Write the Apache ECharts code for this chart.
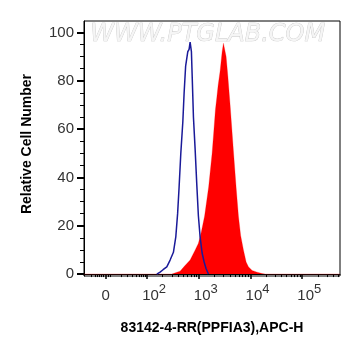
<!DOCTYPE html>
<html>
<head>
<meta charset="utf-8">
<script src="https://cdn.jsdelivr.net/npm/echarts@6/dist/echarts.min.js"></script>
<style>
  html, body { margin: 0; padding: 0; background: #fff; }
  #chart { width: 361px; height: 356px; }
</style>
</head>
<body>
<div id="chart"></div>
<script>
// x values are in decade units of the logicle axis (2 = 10^2, 3 = 10^3 ...)
var sampleX = [0.78, 2.478, 2.638, 2.72, 2.832, 2.928, 2.992, 3.044, 3.112, 3.190, 3.257, 3.286, 3.321, 3.348, 3.373, 3.412, 3.451, 3.476, 3.499, 3.528, 3.561, 3.605, 3.669, 3.721, 3.766, 3.809, 3.863, 3.915, 3.959, 4.031, 4.128, 4.224, 4.282, 5.73];
var sampleY = [0, 0, 1.2, 3.2, 5.8, 9.9, 12.7, 17, 24, 36, 50, 58, 68, 73, 78, 84, 92, 95.5, 95, 90, 82, 70, 51, 36, 24, 16, 10, 5, 3, 1.5, 0.8, 0.2, 0, 0];

var ctrlX = [2.188, 2.251, 2.309, 2.381, 2.445, 2.509, 2.555, 2.590, 2.619, 2.652, 2.691, 2.716, 2.745, 2.787, 2.812, 2.832, 2.857, 2.876, 2.896, 2.928, 2.961, 2.992, 3.025, 3.064, 3.103, 3.141, 3.186];
var ctrlY = [0, 0.8, 1.8, 3, 5.8, 9, 15.4, 25, 36, 50, 63, 75, 86, 92, 93, 96, 92, 79, 65, 52, 37, 24, 15.4, 8.7, 5, 2.2, 0];

// tick labels
var xTickPos = [1.2, 2, 3, 4, 5];
var xTickText = ['0', '2', '3', '4', '5'];
var yTicks = [0, 20, 40, 60, 80, 100];
var yMinor = [5, 10, 15, 25, 30, 35, 45, 50, 55, 65, 70, 75, 85, 90, 95];

// minor ticks on the x axis (near zero, 10..100, then k*10^d)
var xMinor = [0.917, 0.994, 1.033, 1.072, 1.110, 1.149, 1.246, 1.284];
for (var k = 2; k <= 9; k++) xMinor.push(1.284 + 0.716 * Math.log10(k));
for (var d = 2; d <= 5; d++) {
  for (var k = 2; k <= 9; k++) {
    var v = d + Math.log10(k);
    if (v < 5.73) xMinor.push(v);
  }
}

function pairs(xs, ys) {
  return xs.map(function (x, i) { return [x, ys[i]]; });
}

var myChart = echarts.init(document.getElementById('chart'));
var tickFont = 'Liberation Sans, Arial, sans-serif';

var option = {
  animation: false,
  grid: {
    left: 84, right: 21, top: 21, bottom: 80,
    show: true, borderColor: '#000', borderWidth: 1
  },
  graphic: [
    {
      type: 'text', left: 90, top: 22, z: 0,
      style: {
        text: 'WWW.PTGLAB.COM',
        font: 'italic 24px DejaVu Sans, sans-serif',
        fill: '#f5f5f5', stroke: '#c4c4c4', lineWidth: 0.7
      }
    },
    {
      type: 'text', x: 27, y: 144, rotation: Math.PI / 2,
      style: {
        text: 'Relative Cell Number',
        font: 'bold 14px Liberation Sans, Arial, sans-serif',
        fill: '#000', align: 'center', verticalAlign: 'middle'
      }
    }
  ],
  xAxis: [{
    type: 'value', min: 0.78, max: 5.73,
    name: '83142-4-RR(PPFIA3),APC-H',
    nameLocation: 'middle', nameGap: 45,
    nameTextStyle: { fontFamily: tickFont, fontWeight: 'bold', fontSize: 14, color: '#000' },
    splitLine: { show: false },
    axisLine: { lineStyle: { color: '#000', width: 1 } },
    axisTick: { customValues: xTickPos, length: 5, lineStyle: { color: '#000', width: 1.5 } },
    axisLabel: {
      customValues: xTickPos,
      margin: 7,
      formatter: function (val) {
        var i = xTickPos.indexOf(val);
        if (i === 0) return '{z|0}';
        return '{b|10}{s|' + xTickText[i] + '}';
      },
      rich: {
        z: { fontFamily: tickFont, fontSize: 15, color: '#333', lineHeight: 17, padding: [8, 0, 0, 0] },
        b: { fontFamily: tickFont, fontSize: 15, color: '#333', lineHeight: 17, padding: [8, 0, 0, 14] },
        s: { fontFamily: tickFont, fontSize: 13, color: '#333', lineHeight: 10, verticalAlign: 'top' }
      }
    }
  }, {
    type: 'value', min: 0.78, max: 5.73, position: 'bottom',
    splitLine: { show: false },
    axisLine: { show: false },
    axisTick: { customValues: xMinor, length: 3, lineStyle: { color: '#000' } },
    axisLabel: { show: false }
  }],
  yAxis: [{
    type: 'value', min: -0.8, max: 104.7,
    splitLine: { show: false },
    axisLine: { lineStyle: { color: '#000', width: 1 } },
    axisTick: { customValues: yTicks, length: 7, lineStyle: { color: '#000', width: 2 } },
    axisLabel: { customValues: yTicks, fontFamily: tickFont, fontSize: 15, color: '#333', margin: 10 }
  }, {
    type: 'value', min: -0.8, max: 104.7, position: 'left',
    splitLine: { show: false },
    axisLine: { show: false },
    axisTick: { customValues: yMinor, length: 4, lineStyle: { color: '#000' } },
    axisLabel: { show: false }
  }],
  series: [{
    name: 'sample',
    type: 'line',
    data: pairs(sampleX, sampleY),
    showSymbol: false,
    lineStyle: { width: 1, color: 'rgba(255,0,0,0.25)' },
    areaStyle: { color: '#ff0000', opacity: 1 },
    z: 2
  }, {
    name: 'control',
    type: 'line',
    data: pairs(ctrlX, ctrlY),
    showSymbol: false,
    lineStyle: { width: 1.5, color: '#1a1a99' },
    z: 3
  }]
};

myChart.setOption(option);
window.addEventListener('resize', function () {
  myChart.resize();
});
</script>
</body>
</html>
